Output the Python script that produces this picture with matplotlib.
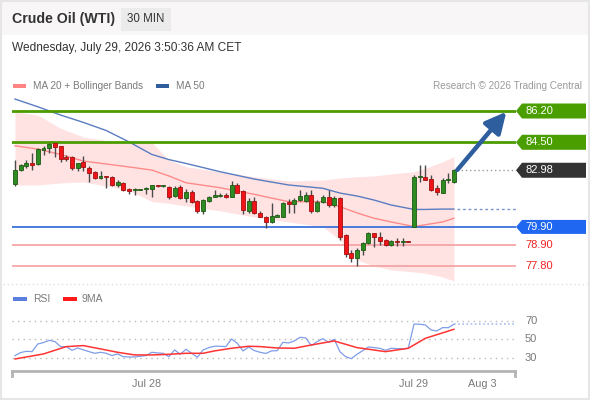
import matplotlib
matplotlib.use("Agg")
import matplotlib.pyplot as plt
from matplotlib.patches import Rectangle, Polygon, FancyArrowPatch
from matplotlib.lines import Line2D
from matplotlib.transforms import blended_transform_factory
import numpy as np

plt.rcParams['font.family'] = ['Liberation Sans', 'DejaVu Sans']

# ---------------- data ----------------
title = "Crude Oil (WTI)"
timeframe = "30 MIN"
timestamp = "Wednesday, July 29, 2026 3:50:36 AM CET"
copyright_txt = "Research \u00a9 2026 Trading Central"

opens = [82.22, 82.99, 83.23, 83.38, 83.30, 84.08, 84.17, 84.44, 84.30, 83.72,
         83.72, 83.12, 83.41, 83.09, 82.86, 82.58, 82.67, 82.60, 82.17, 82.30,
         81.95, 81.90, 81.92, 81.95, 81.98, 82.18, 82.13, 82.06, 81.58, 82.06,
         81.45, 81.81, 81.31, 80.77, 81.31, 81.54, 81.60, 81.63, 81.54, 82.17,
         81.87, 80.77, 81.33, 80.68, 80.46, 80.15, 80.46, 80.46, 81.27, 81.15,
         81.36, 81.33, 81.63, 80.78, 81.27, 81.51, 81.09, 81.45, 79.46, 78.47,
         78.20, 78.65, 79.04, 79.55, 79.37, 79.19, 78.92, 79.13, 79.10, 79.12,
         79.92, 82.60, 82.60, 82.50, 82.00, 81.76, 82.45, 82.36]
highs = [83.54, 83.32, 83.54, 83.90, 84.17, 84.30, 84.44, 84.44, 84.30, 83.80,
         83.76, 83.39, 83.76, 83.20, 82.96, 82.96, 82.67, 82.67, 82.45, 82.36,
         82.00, 82.03, 81.96, 82.09, 82.20, 82.20, 82.20, 82.12, 82.12, 82.17,
         81.94, 81.90, 81.36, 81.40, 81.58, 81.90, 81.74, 81.74, 82.41, 82.30,
         81.91, 81.45, 81.54, 80.78, 80.49, 81.22, 80.60, 81.27, 81.40, 81.45,
         81.90, 81.80, 81.91, 81.36, 81.63, 81.90, 81.60, 81.54, 79.50, 78.65,
         78.74, 79.10, 79.65, 79.59, 79.60, 79.23, 79.19, 79.30, 79.30, 79.14,
         82.72, 83.27, 83.27, 82.72, 82.17, 82.55, 82.81, 83.04]
lows = [82.14, 82.94, 83.09, 82.99, 83.27, 83.80, 83.90, 83.68, 83.45, 83.50,
        82.99, 82.94, 82.96, 82.34, 82.49, 82.51, 81.99, 82.12, 82.06, 81.87,
        81.69, 81.64, 81.88, 81.69, 81.54, 82.05, 82.08, 81.40, 81.54, 81.40,
        81.27, 81.18, 80.68, 80.60, 81.27, 81.51, 81.51, 81.47, 81.51, 81.73,
        80.60, 80.64, 80.60, 80.43, 79.83, 80.13, 80.43, 80.43, 80.68, 80.68,
        81.30, 81.25, 80.64, 80.73, 81.20, 80.96, 81.00, 79.19, 78.27, 78.01,
        77.80, 78.40, 78.98, 78.83, 78.93, 78.86, 78.86, 78.88, 78.86, 79.07,
        79.88, 82.36, 82.45, 81.87, 81.64, 81.76, 82.31, 82.31]
closes = [82.99, 83.26, 83.39, 83.28, 84.12, 84.17, 84.40, 84.26, 83.58, 83.58,
          83.12, 83.36, 83.14, 82.81, 82.54, 82.67, 82.60, 82.18, 82.34, 81.91,
          81.87, 81.92, 81.93, 81.98, 82.18, 82.13, 82.15, 81.54, 82.00, 81.45,
          81.81, 81.27, 80.77, 81.36, 81.54, 81.65, 81.62, 81.55, 82.17, 81.76,
          80.82, 81.33, 80.64, 80.46, 80.15, 80.49, 80.53, 81.22, 81.15, 81.36,
          81.60, 81.65, 80.78, 81.27, 81.54, 81.09, 81.45, 79.37, 78.43, 78.20,
          78.65, 79.04, 79.55, 79.33, 79.15, 78.92, 79.13, 79.10, 79.12, 79.09,
          82.60, 82.62, 82.45, 81.91, 81.82, 82.45, 82.50, 82.98]

band_idx = [0, 4, 8, 12, 16, 20, 24, 27, 30, 36, 42, 48, 54, 57, 60, 63, 66, 70, 72, 75, 77]
bb_upper = [86.15, 85.98, 85.26, 84.79, 84.59, 84.55, 84.49, 83.54, 83.17, 82.90, 82.63,
            82.40, 82.45, 82.56, 82.63, 82.67, 82.78, 82.90, 83.09, 83.44, 83.72]
bb_lower = [82.18, 82.18, 82.29, 82.34, 82.12, 81.88, 81.28, 81.18, 81.04, 80.77, 80.44,
            80.17, 79.91, 79.19, 78.10, 77.78, 77.56, 77.45, 77.38, 77.18, 76.96]
ma20 = [84.31, 84.13, 83.84, 83.48, 83.32, 83.16, 82.99, 82.67, 82.30, 82.03, 81.67,
        81.27, 81.27, 81.00, 80.66, 80.37, 80.17, 79.92, 80.02, 80.17, 80.37]
ma50 = [86.85, 86.43, 85.98, 85.58, 85.14, 84.52, 83.84, 83.56, 83.35, 82.90, 82.50,
        82.18, 82.00, 81.74, 81.58, 81.36, 81.09, 80.85, 80.85, 80.87, 80.87]

resist_levels = [86.20, 84.50]
pivot_level = 79.90
support_levels = [78.90, 77.80]

rsi = [32.2, 35.5, 36.9, 36.5, 44.9, 46.4, 48.9, 47.5, 42.0, 42.0,
       38.0, 40.5, 38.4, 36.5, 34.7, 35.8, 34.7, 32.2, 34.0, 31.0,
       30.7, 30.7, 31.5, 32.2, 35.8, 35.1, 34.7, 31.0, 38.4, 33.6,
       39.1, 34.7, 30.4, 38.4, 40.9, 42.4, 42.4, 42.0, 50.4, 45.6,
       37.3, 41.6, 37.6, 35.8, 34.5, 37.3, 37.6, 46.7, 46.0, 48.2,
       52.2, 51.5, 43.1, 47.5, 50.7, 46.7, 50.0, 36.5, 31.0, 28.9,
       33.6, 37.6, 41.6, 40.9, 40.2, 38.0, 40.2, 39.8, 39.5, 40.2,
       66.7, 66.4, 65.6, 60.2, 59.1, 62.7, 62.7, 66.4]
rsi_ma_idx = [0, 3, 5, 9, 12, 15, 18, 21, 24, 27, 30, 33, 35, 38, 41, 43, 46, 49, 52, 56, 60, 65, 69, 72, 77]
rsi_ma9 = [28.5, 31.8, 34.0, 42.0, 43.1, 39.5, 35.8, 32.9, 32.9, 33.6, 34.7, 34.7, 37.3,
           40.2, 42.4, 42.0, 40.5, 40.2, 43.8, 48.2, 40.9, 36.5, 40.2, 51.1, 60.9]
rsi_ticks = [30, 50, 70]

date_tick_pos = [23, 70, 82]
date_tick_labels = ["Jul 28", "Jul 29", "Aug 3"]

# ---------------- figure ----------------
W, H = 590, 400
fig = plt.figure(figsize=(W / 100, H / 100), dpi=100)
fig.patch.set_facecolor('white')


def fx(px):
    return px / W


def fy(py):
    return 1 - py / H


def add_axes_px(x0, y0, x1, y1):
    return fig.add_axes([x0 / W, 1 - y1 / H, (x1 - x0) / W, (y1 - y0) / H])


def frect(x0, y0, x1, y1, **kw):
    r = Rectangle((fx(x0), fy(y1)), (x1 - x0) / W, (y1 - y0) / H,
                  transform=fig.transFigure, **kw)
    fig.patches.append(r)
    return r


# header background and border
frect(0, 0, W, 35, facecolor='#f8f6f6', edgecolor='none', zorder=0)
frect(1, 1, W - 1.5, H - 1.5, facecolor='none', edgecolor='#e6e6e6', lw=1.5, zorder=10)

fig.text(fx(12), fy(19), title, fontsize=10.2, fontweight='bold', color='#333333', va='center')
frect(121, 8, 171, 31, facecolor='#ebebeb', edgecolor='none', zorder=1)
fig.text(fx(146), fy(19.5), timeframe, fontsize=8.3, color='#333333', va='center', ha='center', zorder=2)
fig.text(fx(12), fy(48.5), timestamp, fontsize=8.6, color='#333333', va='center')

# legend line
frect(13, 84, 26, 88, facecolor='#ff8585', edgecolor='none')
fig.text(fx(33), fy(86), "MA 20 + Bollinger Bands", fontsize=7.2, color='#7a7a7a', va='center')
frect(156, 84, 169, 88, facecolor='#2f5d9e', edgecolor='none')
fig.text(fx(176), fy(86), "MA 50", fontsize=7.2, color='#7a7a7a', va='center')
fig.text(fx(582), fy(86), copyright_txt, fontsize=7.2, color='#9a9a9a', va='center', ha='right')

# ---------------- main price axes ----------------
n = len(closes)
x = np.arange(n)
o = np.array(opens); h = np.array(highs); l = np.array(lows); c = np.array(closes)

ax = add_axes_px(12, 92, 516, 284)
x_left, x_right = -0.526, 87.89
ax.set_xlim(x_left, x_right)
ax.set_ylim(76.798, 87.233)
ax.set_axis_off()

ax.fill_between(band_idx, bb_lower, bb_upper, color='#ffe3e3', lw=0, zorder=1)
ax.plot(band_idx, ma20, color='#ff8a8a', lw=1, zorder=2)
ax.plot(band_idx, ma50, color='#5a7cc0', lw=1, zorder=2)

for lv in resist_levels:
    ax.axhline(lv, color='#4c9c00', lw=2, zorder=3)
ax.axhline(pivot_level, color='#3a72dc', lw=1.3, zorder=3)
for lv in support_levels:
    ax.axhline(lv, color='#f4a0a0', lw=1.2, zorder=3)

up = c >= o
ax.vlines(x, l, h, color='#4a4a4a', lw=1, zorder=5)
body_bottom = np.minimum(o, c)
body_h = np.maximum(np.abs(c - o), 0.05)
ax.bar(x, body_h, bottom=body_bottom, width=0.7,
       color=np.where(up, '#2e8b22', '#f01418'),
       edgecolor=np.where(up, '#1c5a14', '#a01010'), linewidth=0.6, zorder=6)

ax.hlines(c[-1], n - 1 + 0.5, x_right, color='#999999', lw=1, linestyles=(0, (1, 2)), zorder=4)
ax.hlines(ma50[-1], n - 1 + 0.5, x_right, color='#7a95cc', lw=1, linestyles=(0, (2, 2)), zorder=4)

arrow = FancyArrowPatch((n - 1 + 0.6, c[-1] + 0.02), (n - 1 + 9.2, resist_levels[0] - 0.04),
                        arrowstyle='-|>,head_length=0.9,head_width=0.45', mutation_scale=14,
                        lw=3.2, color='#2e5e9e', zorder=7, clip_on=False,
                        shrinkA=0, shrinkB=0)
ax.add_patch(arrow)

trans = blended_transform_factory(fig.transFigure, ax.transData)
ppu = (284 - 92) / (87.233 - 76.798)  # pixels per price unit


def tag(price, face, half_px=7.5):
    hh = half_px / ppu
    pts = [(fx(516), price), (fx(522), price + hh), (fx(586), price + hh),
           (fx(586), price - hh), (fx(522), price - hh)]
    ax.add_patch(Polygon(pts, closed=True, transform=trans, facecolor=face,
                         edgecolor='none', clip_on=False, zorder=8))
    ax.text(fx(525), price, f"{price:.2f}", transform=trans, color='white', fontsize=8,
            va='center', ha='left', clip_on=False, zorder=9)


for lv in resist_levels:
    tag(lv, '#4a9e00')
tag(c[-1], '#333333')
tag(pivot_level, '#1f66f0', half_px=7)
for lv in support_levels:
    ax.text(fx(525), lv, f"{lv:.2f}", transform=trans, color='#ee2222', fontsize=8,
            va='center', ha='left', clip_on=False)

# separator
fig.lines.append(Line2D([fx(3), fx(587)], [fy(283.5)] * 2, transform=fig.transFigure,
                        color='#dddddd', lw=1, ls=(0, (1, 2))))

# ---------------- RSI axes ----------------
frect(13, 297, 27, 301, facecolor='#5b7fe0', edgecolor='none')
fig.text(fx(33), fy(299), "RSI", fontsize=7.5, color='#7a7a7a', va='center')
frect(63, 297, 77, 301, facecolor='#ff1a1a', edgecolor='none')
fig.text(fx(82), fy(299), "9MA", fontsize=7.5, color='#7a7a7a', va='center')

rax = add_axes_px(12, 310, 515, 371)
rax.set_xlim(x_left, x_left + (515 - 12) / 5.7)
rax.set_ylim(15.36, 82.0)
rax.patch.set_alpha(0)
for s in ['top', 'left', 'right']:
    rax.spines[s].set_visible(False)
rax.spines['bottom'].set_color('#b4b4b4')
rax.spines['bottom'].set_linewidth(2)
for v in rsi_ticks:
    rax.axhline(v, color='#bbbbbb', lw=1, ls=(0, (1, 3)), zorder=1)
rax.plot(x, rsi, color='#7f9de8', lw=0.9, zorder=3)
rax.plot(rsi_ma_idx, rsi_ma9, color='#ff3333', lw=1.1, zorder=4)
rax.hlines(rsi[-1], n - 1, x_left + (515 - 12) / 5.7, color='#a9bdf0', lw=1.2,
           linestyles=(0, (1, 1.5)), zorder=2)
rtrans = blended_transform_factory(fig.transFigure, rax.transData)
for v in rsi_ticks:
    rax.text(fx(525), v, str(v), transform=rtrans, color='#7a7a7a', fontsize=8,
             va='center', ha='left', clip_on=False)
rax.set_yticks([])
rax.set_xticks(date_tick_pos)
rax.set_xticklabels(date_tick_labels)
rax.tick_params(axis='x', length=0, pad=5.5, labelsize=7.8, labelcolor='#7a7a7a')

for xp in (12, 515):
    fig.lines.append(Line2D([fx(xp), fx(xp)], [fy(371), fy(376)], transform=fig.transFigure,
                            color='#b4b4b4', lw=2))

fig.savefig('out.png', dpi=100)
